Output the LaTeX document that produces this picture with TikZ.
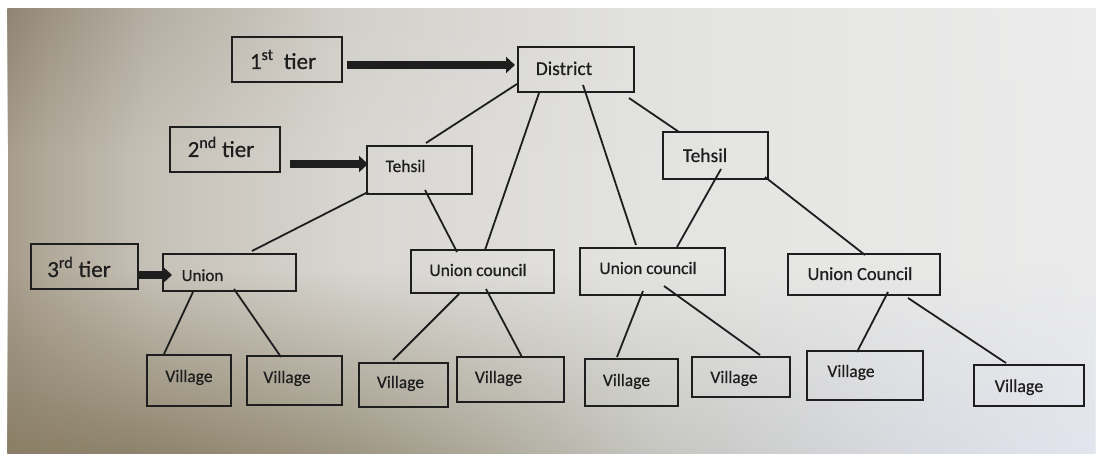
\documentclass[tikz,border=0pt]{standalone}
\usepackage{fontspec}
\setmainfont{Carlito}[FakeBold=0.6]
\usetikzlibrary{arrows.meta,calc,fadings}
\definecolor{ink}{HTML}{1E1E1E}
% mid band colours
\definecolor{ma}{HTML}{A69D8D}\definecolor{mb}{HTML}{B1A99A}\definecolor{mc}{HTML}{C6C1B7}
\definecolor{md}{HTML}{D8D6D1}\definecolor{me}{HTML}{E3E3E1}\definecolor{mf}{HTML}{EBEBEB}
% top band colours
\definecolor{ta}{HTML}{8F8574}\definecolor{tb}{HTML}{9C9383}\definecolor{tc}{HTML}{B5AEA2}
\definecolor{td}{HTML}{D3D0CA}\definecolor{te}{HTML}{E2E2E0}\definecolor{tf}{HTML}{EDEDED}
% bottom band colours
\definecolor{ba}{HTML}{8A7E66}\definecolor{bb}{HTML}{8F846C}\definecolor{bc}{HTML}{9D9682}
\definecolor{bd}{HTML}{B0AC9E}\definecolor{be}{HTML}{C5C5C0}\definecolor{bf}{HTML}{D8DAE0}\definecolor{bg}{HTML}{E2E5EE}
\pgfdeclarehorizontalshading{bgmid}{100bp}{color(0bp)=(ma); color(25bp)=(ma); color(26.9bp)=(mb); color(31.5bp)=(mc); color(40.7bp)=(md); color(54.5bp)=(me); color(75bp)=(mf); color(100bp)=(mf)}
\pgfdeclarehorizontalshading{bgtop}{100bp}{color(0bp)=(ta); color(25bp)=(ta); color(26.9bp)=(tb); color(31.5bp)=(tc); color(40.7bp)=(td); color(54.5bp)=(te); color(75bp)=(tf); color(100bp)=(tf)}
\pgfdeclarehorizontalshading{bgbot}{100bp}{color(0bp)=(ba); color(25bp)=(ba); color(31.5bp)=(bb); color(40.7bp)=(bc); color(47.6bp)=(bd); color(54.5bp)=(be); color(66bp)=(bf); color(75bp)=(bg); color(100bp)=(bg)}
\tikzfading[name=fadetop, top color=transparent!0, bottom color=transparent!100]
\tikzfading[name=fadebot, top color=transparent!100, bottom color=transparent!0]
\begin{document}
\begin{tikzpicture}[x=1pt,y=-1pt,
  box/.style={draw=ink, line width=1.3pt, inner sep=0pt},
  lbl/.style={text=ink, inner sep=0pt, anchor=base},
  link/.style={draw=ink, line width=1.8pt},
  thick arrow/.style={draw=ink, line width=7.5pt, -{Triangle[length=9pt,width=16pt]}},
  fa/.style={font=\fontsize{17.5}{20}\selectfont},
  fb/.style={font=\fontsize{19.5}{22}\selectfont},
  ft/.style={font=\fontsize{23}{26}\selectfont}]
\useasboundingbox (0,0) rectangle (1096,454);
\fill[white] (0,0) rectangle (1096,454);
\shade[shading=bgmid] (8,9) rectangle (1096,454);
\shade[shading=bgtop, path fading=fadetop] (8,9) rectangle (1096,150);
\shade[shading=bgbot, path fading=fadebot] (8,270) rectangle (1096,454);

% boxes
\node[box, minimum width=110pt, minimum height=45pt] (tier1) at (287,59.5) {};
\node[box, minimum width=110pt, minimum height=45pt] (tier2) at (225,149.5) {};
\node[box, minimum width=107pt, minimum height=45pt] (tier3) at (84.5,266.5) {};
\node[box, minimum width=116pt, minimum height=45pt] (district) at (576,69.5) {};
\node[box, minimum width=105pt, minimum height=48pt] (tehl) at (419.5,170) {};
\node[box, minimum width=105pt, minimum height=47pt] (tehr) at (715.5,155.5) {};
\node[box, minimum width=133pt, minimum height=37pt] (union) at (229.5,272.5) {};
\node[box, minimum width=143pt, minimum height=43pt] (uca) at (482.5,271.5) {};
\node[box, minimum width=145pt, minimum height=47pt] (ucb) at (652.5,271.5) {};
\node[box, minimum width=152pt, minimum height=41pt] (ucc) at (864,274.5) {};
\node[box, minimum width=84pt, minimum height=51pt] (v1) at (189,380.5) {};
\node[box, minimum width=95pt, minimum height=49pt] (v2) at (294.5,380.5) {};
\node[box, minimum width=89pt, minimum height=44pt] (v3) at (403.5,385) {};
\node[box, minimum width=107pt, minimum height=45pt] (v4) at (510.5,379.5) {};
\node[box, minimum width=93pt, minimum height=47pt] (v5) at (631.5,382.5) {};
\node[box, minimum width=98pt, minimum height=40pt] (v6) at (741,377) {};
\node[box, minimum width=116pt, minimum height=49pt] (v7) at (865,375.5) {};
\node[box, minimum width=110pt, minimum height=41pt] (v8) at (1029,385.5) {};

% texts
\node[lbl, ft] (tier1t) at (283,69) {1\textsuperscript{st}\hspace{5pt} tier};
\node[lbl, ft] (tier2t) at (221,157) {2\textsuperscript{nd} tier};
\node[lbl, ft] (tier3t) at (79,277) {3\textsuperscript{rd} tier};
\node[lbl, fb] (districtt) at (564,75) {District};
\node[lbl, fa] (tehlt) at (405.5,172) {Tehsil};
\node[lbl, fb] (tehrt) at (705,162) {Tehsil};
\node[lbl, font=\fontsize{17}{20}\selectfont] (uniont) at (202.5,281) {Union};
\node[lbl, fa] (ucat) at (478,276) {Union council};
\node[lbl, fa] (ucbt) at (648,274) {Union council};
\node[lbl, font=\fontsize{18.5}{21}\selectfont] (ucct) at (860,280) {Union Council};
\node[lbl, fa] (v1t) at (189,382) {Village};
\node[lbl, fa] (v2t) at (287,383) {Village};
\node[lbl, fa] (v3t) at (400.5,388) {Village};
\node[lbl, fa] (v4t) at (498.5,383) {Village};
\node[lbl, fa] (v5t) at (626.5,386) {Village};
\node[lbl, fa] (v6t) at (734,383) {Village};
\node[lbl, fa] (v7t) at (851,377) {Village};
\node[lbl, font=\fontsize{18}{21}\selectfont] (v8t) at (1019,392) {Village};

% tier arrows
\draw[thick arrow] ($(tier1)+(60,5.5)$) -- ($(district)+(-61,-4.5)$);
\draw[thick arrow] ($(tier2)+(65,14.5)$) -- ($(tehl)+(-51.5,-6)$);
\draw[thick arrow] ($(tier3)+(52.5,8.5)$) -- ($(union)+(-57.5,2.5)$);

% connectors
\draw[link] ($(district)+(-59,14.5)$) -- ($(tehl)+(6.5,-27)$);
\draw[link] ($(district)+(-37,23.5)$) -- ($(uca)+(2.5,-21.5)$);
\draw[link] ($(district)+(7,15.5)$) -- ($(ucb)+(-16.5,-26.5)$);
\draw[link] ($(district)+(53,28.5)$) -- ($(tehr)+(-36.5,-23.5)$);
\draw[link] ($(tehl)+(-51.5,22)$) -- ($(union)+(22.5,-21.5)$);
\draw[link] ($(tehl)+(5.5,20)$) -- ($(uca)+(-25.5,-19.5)$);
\draw[link] ($(tehr)+(5.5,13.5)$) -- ($(ucb)+(24.5,-24.5)$);
\draw[link] ($(tehr)+(49.5,21.5)$) -- ($(ucc)+(1,-19.5)$);
\draw[link] ($(union)+(-36.5,19.5)$) -- ($(v1)+(-25,-26.5)$);
\draw[link] ($(union)+(4.5,16.5)$) -- ($(v2)+(-13.5,-23.5)$);
\draw[link] ($(uca)+(-23.5,22.5)$) -- ($(v3)+(-10.5,-25)$);
\draw[link] ($(uca)+(3.5,17.5)$) -- ($(v4)+(11.5,-22.5)$);
\draw[link] ($(ucb)+(-9.5,19.5)$) -- ($(v5)+(-14.5,-25.5)$);
\draw[link] ($(ucb)+(11.5,14.5)$) -- ($(v6)+(19,-22)$);
\draw[link] ($(ucc)+(24,17.5)$) -- ($(v7)+(-8,-23.5)$);
\draw[link] ($(ucc)+(44,23.5)$) -- ($(v8)+(-23,-22.5)$);
\end{tikzpicture}
\end{document}
